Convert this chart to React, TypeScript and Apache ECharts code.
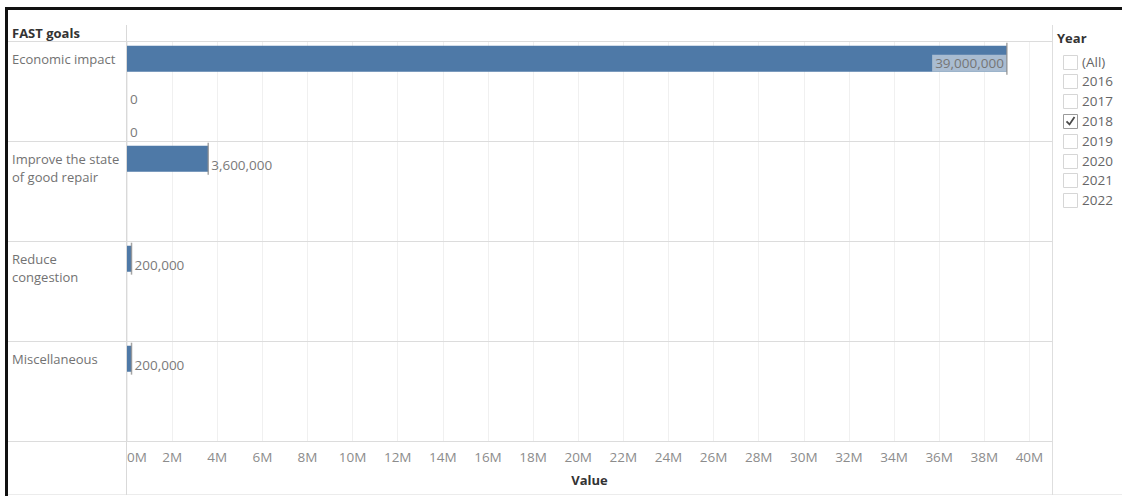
import { useEffect, useRef } from 'react';
import * as echarts from 'echarts';

// ---- data ----
const goals = ['Economic impact', 'Improve the state of good repair', 'Reduce congestion', 'Miscellaneous'];
const firstMarkValues: (number | null)[] = [39000000, 3600000, 200000, 200000];
const secondMarkValues: (number | null)[] = [0, null, null, null];
const thirdMarkValues: (number | null)[] = [0, null, null, null];
const xTickStep = 2000000;
const xAxisMax = 41000000;
const years = ['(All)', '2016', '2017', '2018', '2019', '2020', '2021', '2022'];
const selectedYears = ['2018'];

const FONT = '"Open Sans", "Noto Sans", sans-serif';
const W = 1122;
const H = 496;
const GRID_LEFT = 127;
const GRID_RIGHT_X = 1052;
const GRID_TOP = 42;
const GRID_BOTTOM_Y = 442;

function wrapText(text: string, maxWidth: number, font: string): string[] {
  const canvas = document.createElement('canvas');
  const ctx = canvas.getContext('2d');
  if (!ctx) return [text];
  ctx.font = font;
  const words = text.split(' ');
  const lines: string[] = [];
  let cur = '';
  for (const w of words) {
    const t = cur ? cur + ' ' + w : w;
    if (cur && ctx.measureText(t).width > maxWidth) {
      lines.push(cur);
      cur = w;
    } else cur = t;
  }
  if (cur) lines.push(cur);
  return lines;
}

export default function App() {
  const ref = useRef<HTMLDivElement>(null);

  useEffect(() => {
    document.body.style.margin = '0';
    if (!ref.current) return;
    const chart = echarts.init(ref.current, undefined, { renderer: 'svg', width: W, height: H });

    const slotNames: string[] = [];
    const slotValues: (number | null)[] = [];
    goals.forEach((g, i) => {
      const vals = [firstMarkValues[i], secondMarkValues[i], thirdMarkValues[i]];
      vals.forEach((v, k) => {
        slotNames.push(`${i}|${k}`);
        slotValues.push(v);
      });
    });

    const valueFmt = (v: number) => Number(v).toLocaleString('en-US');

    const barData = slotValues.map((v) => {
      if (v === null) return null;
      if (v > xAxisMax * 0.9) {
        return {
          value: v,
          label: {
            position: 'insideRight',
            distance: 0,
            offset: [0, 4.5],
            backgroundColor: '#a9bcd1',
            padding: [2, 3, 1, 3],
            lineHeight: 14,
            color: '#767676',
          },
        };
      }
      return { value: v };
    });

    const markerData = slotValues
      .map((v, idx) => (v !== null && v > 0 ? [v, slotNames[idx]] : null))
      .filter((d) => d !== null);

    const rowLines = [];
    for (let i = 0; i <= goals.length; i++) {
      const y = GRID_TOP + (i * (GRID_BOTTOM_Y - GRID_TOP)) / goals.length - 0.5;
      rowLines.push({
        type: 'line',
        silent: true,
        shape: { x1: 8, y1: y, x2: GRID_RIGHT_X + 0.5, y2: y },
        style: { stroke: '#dcdcdc', lineWidth: 1 },
        z: 5,
      });
    }

    const legendItems: any[] = [];
    years.forEach((yr, i) => {
      const cy = 61.5 + i * 19.8;
      const checked = selectedYears.includes(yr);
      legendItems.push({
        type: 'rect',
        silent: true,
        shape: { x: 1063.5, y: Math.round(cy - 7) + 0.5, width: 14, height: 14 },
        style: { fill: '#ffffff', stroke: checked ? '#9a9a9a' : '#d6d6d6', lineWidth: 1 },
      });
      legendItems.push({
        type: 'text',
        silent: true,
        x: 1082,
        y: cy,
        style: { text: yr, fontSize: 13.5, fontFamily: FONT, fill: '#666666', verticalAlign: 'middle', align: 'left' },
      });
      if (checked) {
        legendItems.push({
          type: 'polyline',
          silent: true,
          shape: { points: [[1066.5, cy + 0.5], [1069.5, cy + 3.5], [1074.5, cy - 4]] },
          style: { stroke: '#4a4a4a', lineWidth: 1.8, fill: null },
        });
      }
    });

    const option: any = {
      animation: false,
      textStyle: { fontFamily: FONT },
      grid: {
        left: GRID_LEFT,
        right: W - GRID_RIGHT_X,
        top: GRID_TOP,
        bottom: H - GRID_BOTTOM_Y,
        containLabel: false,
      },
      xAxis: {
        type: 'value',
        min: 0,
        max: xAxisMax,
        interval: xTickStep,
        name: 'Value',
        nameLocation: 'middle',
        nameGap: 31,
        nameTextStyle: { fontSize: 13, fontWeight: 'bold', color: '#333333', fontFamily: FONT },
        axisLine: { show: false },
        axisTick: { show: false },
        axisLabel: {
          fontSize: 13.5,
          color: '#8c8c8c',
          fontFamily: FONT,
          margin: 8,
          showMaxLabel: false,
          alignMinLabel: 'left',
          formatter: (v: number) => (v % xTickStep === 0 ? `${v / 1000000}M` : ''),
        },
        splitLine: { show: true, lineStyle: { color: '#f0f0f0', width: 1 } },
      },
      yAxis: {
        type: 'category',
        data: slotNames,
        inverse: true,
        axisLine: { show: false },
        axisTick: { show: false },
        splitLine: { show: false },
        axisLabel: {
          interval: 0,
          align: 'left',
          margin: GRID_LEFT - 12,
          fontSize: 13,
          lineHeight: 18,
          color: '#727272',
          fontFamily: FONT,
          formatter: (val: string) => {
            const [gi, k] = val.split('|');
            if (k !== '0') return '';
            const lines = wrapText(goals[Number(gi)], 110, `13px ${FONT}`);
            const pad = new Array(lines.length - 1).fill('');
            return [...pad, ...lines].join('\n');
          },
        },
      },
      series: [
        {
          type: 'bar',
          data: barData,
          barWidth: 26,
          itemStyle: { color: '#4e79a7' },
          label: {
            show: true,
            position: 'right',
            distance: 3,
            offset: [0, 6.5],
            fontSize: 13.5,
            fontFamily: FONT,
            color: '#7a7a7a',
            formatter: (p: any) => valueFmt(p.value),
          },
          z: 3,
        },
        {
          type: 'scatter',
          data: markerData,
          symbol: 'rect',
          symbolSize: [1.5, 32],
          itemStyle: { color: '#8f8f8f' },
          silent: true,
          z: 6,
        },
      ],
      graphic: [
        { type: 'rect', silent: true, shape: { x: 5, y: 7, width: W - 5, height: 3 }, style: { fill: '#111111' }, z: 10 },
        { type: 'rect', silent: true, shape: { x: 5, y: 7, width: 3, height: H - 7 }, style: { fill: '#111111' }, z: 10 },
        { type: 'line', silent: true, shape: { x1: 8, y1: 494.5, x2: W, y2: 494.5 }, style: { stroke: '#ececec', lineWidth: 1 } },
        { type: 'line', silent: true, shape: { x1: GRID_LEFT - 0.5, y1: 25, x2: GRID_LEFT - 0.5, y2: 495 }, style: { stroke: '#d9d9d9', lineWidth: 1 }, z: 5 },
        { type: 'line', silent: true, shape: { x1: GRID_RIGHT_X + 0.5, y1: 25, x2: GRID_RIGHT_X + 0.5, y2: 495 }, style: { stroke: '#dedede', lineWidth: 1 }, z: 5 },
        ...rowLines,
        {
          type: 'text',
          silent: true,
          x: 12,
          y: 33,
          style: { text: 'FAST goals', fontSize: 13, fontWeight: 'bold', fontFamily: FONT, fill: '#333333', verticalAlign: 'middle' },
        },
        {
          type: 'text',
          silent: true,
          x: 1057,
          y: 38,
          style: { text: 'Year', fontSize: 13, fontWeight: 'bold', fontFamily: FONT, fill: '#333333', verticalAlign: 'middle' },
        },
        ...legendItems,
      ],
    };

    chart.setOption(option);
    return () => chart.dispose();
  }, []);

  return <div ref={ref} style={{ width: W, height: H, background: '#ffffff' }} />;
}
